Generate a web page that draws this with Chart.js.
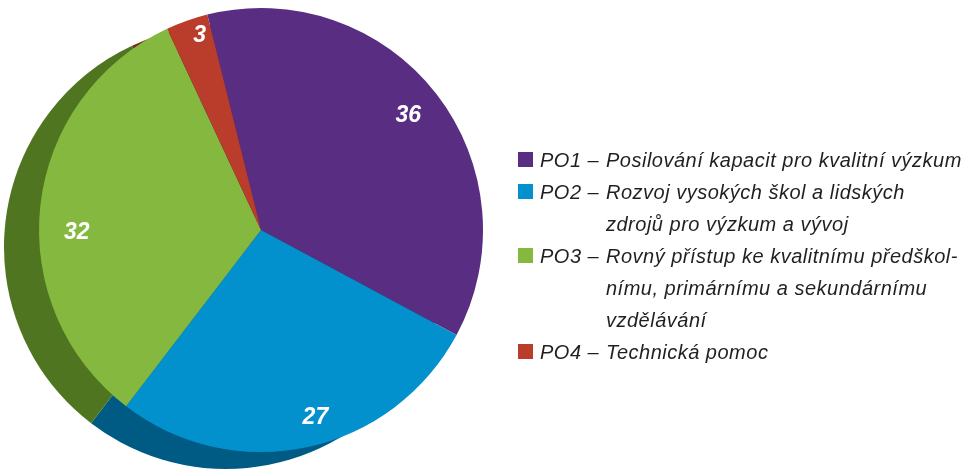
<!DOCTYPE html>
<html>
<head>
<meta charset="utf-8">
<script src="https://cdn.jsdelivr.net/npm/chart.js@4.4.0/dist/chart.umd.min.js"></script>
<style>
  html, body { margin: 0; padding: 0; background: #fff; }
  #wrap { position: relative; width: 966px; height: 471px; }
  #legend { position: absolute; left: 518px; top: 144px; font-family: "Liberation Sans", Arial, sans-serif;
            font-style: italic; font-size: 20px; letter-spacing: 0.5px; color: #231f20; line-height: 32px; }
  .item { display: flex; align-items: flex-start; }
  .box { width: 15px; height: 15px; margin-top: 8px; margin-right: 7px; flex: none; }
  .pre { width: 66px; flex: none; white-space: pre; }
  .txt div { white-space: nowrap; }
</style>
</head>
<body>
<div id="wrap">
  <canvas id="pie" width="966" height="471"></canvas>
  <div id="legend"></div>
</div>
<script>
var categories = ['PO1', 'PO2', 'PO3', 'PO4'];
var descriptions = [
    ['Posilování kapacit pro kvalitní výzkum'],
    ['Rozvoj vysokých škol a lidských', 'zdrojů pro výzkum a vývoj'],
    ['Rovný přístup ke kvalitnímu předškol-', 'nímu, primárnímu a sekundárnímu', 'vzdělávání'],
    ['Technická pomoc']
];
var values = [36, 27, 32, 3];
var colors = ['#582d82', '#0291cc', '#84b83e', '#b93d2a'];
var sideColors = ['#3f1f5e', '#005b84', '#4f7520', '#7d2a1c'];

// where the number sits in each slice: share of radius, turn from the mid angle (deg)
var labelRadius = [0.84, 0.88, 0.83, 0.92];
var labelTurn = [0, -4, -7, 2];

// fake 3D side: darker copy of every slice shifted left-down
var depthPlugin = {
    id: 'depth',
    beforeDatasetsDraw: function (chart) {
        var ctx = chart.ctx;
        var arcs = chart.getDatasetMeta(0).data;
        ctx.save();
        ctx.translate(-35, 17);
        arcs.forEach(function (arc, i) {
            var p = arc.getProps(['x', 'y', 'startAngle', 'endAngle', 'outerRadius'], true);
            ctx.beginPath();
            ctx.moveTo(p.x, p.y);
            ctx.arc(p.x, p.y, p.outerRadius, p.startAngle, p.endAngle);
            ctx.closePath();
            ctx.fillStyle = sideColors[i];
            ctx.fill();
        });
        ctx.restore();
    }
};

var labelPlugin = {
    id: 'numbers',
    afterDatasetsDraw: function (chart) {
        var ctx = chart.ctx;
        var arcs = chart.getDatasetMeta(0).data;
        ctx.save();
        ctx.fillStyle = '#fff';
        ctx.font = 'italic bold 23px "Liberation Sans", Arial, sans-serif';
        ctx.textAlign = 'center';
        ctx.textBaseline = 'middle';
        arcs.forEach(function (arc, i) {
            var p = arc.getProps(['x', 'y', 'startAngle', 'endAngle', 'outerRadius'], true);
            var mid = (p.startAngle + p.endAngle) / 2 + labelTurn[i] * Math.PI / 180;
            var r = p.outerRadius * labelRadius[i];
            ctx.fillText(String(values[i]), p.x + Math.cos(mid) * r, p.y + Math.sin(mid) * r);
        });
        ctx.restore();
    }
};

var chart = new Chart(document.getElementById('pie'), {
    type: 'pie',
    data: {
        labels: categories,
        datasets: [{
            data: values,
            backgroundColor: colors,
            borderWidth: 0
        }]
    },
    options: {
        responsive: false,
        animation: false,
        rotation: -14,
        layout: { padding: { left: 39, right: 483, top: 8, bottom: 19 } },
        plugins: {
            legend: { display: false },
            tooltip: { enabled: false }
        }
    },
    plugins: [depthPlugin, labelPlugin]
});

// html legend with hanging indent
var legend = document.getElementById('legend');
categories.forEach(function (cat, i) {
    var item = document.createElement('div');
    item.className = 'item';
    var box = document.createElement('div');
    box.className = 'box';
    box.style.background = colors[i];
    var pre = document.createElement('div');
    pre.className = 'pre';
    pre.textContent = cat + ' – ';
    var txt = document.createElement('div');
    txt.className = 'txt';
    descriptions[i].forEach(function (line) {
        var d = document.createElement('div');
        d.textContent = line;
        txt.appendChild(d);
    });
    item.appendChild(box);
    item.appendChild(pre);
    item.appendChild(txt);
    legend.appendChild(item);
});
</script>
</body>
</html>
